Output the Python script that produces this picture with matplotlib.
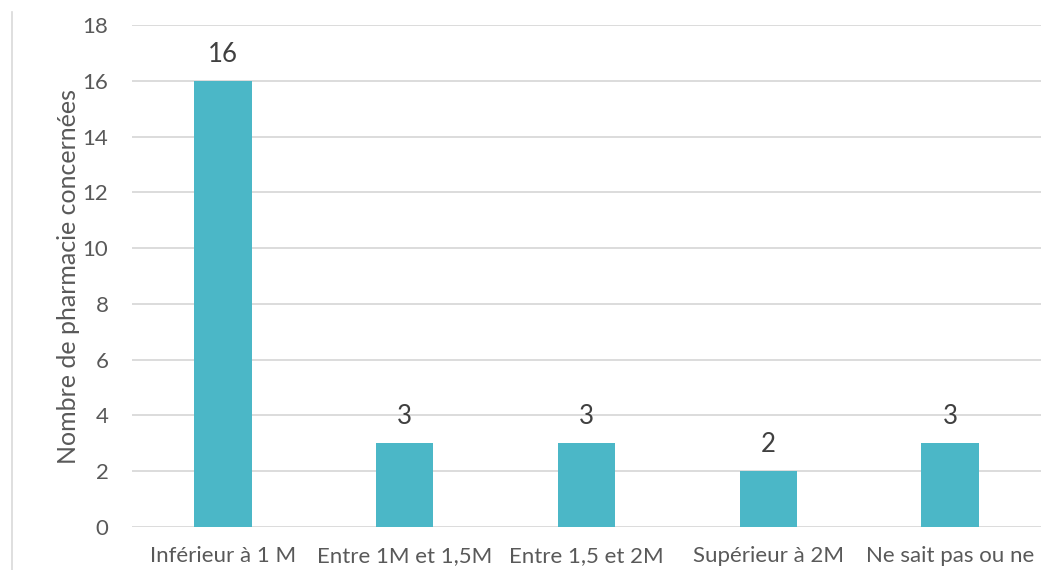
import matplotlib.pyplot as plt

categories = ['Inférieur à 1 M', 'Entre 1M et 1,5M', 'Entre 1,5 et 2M', 'Supérieur à 2M', 'Ne sait pas ou ne']
values = [16, 3, 3, 2, 3]
yticks = [0, 2, 4, 6, 8, 10, 12, 14, 16, 18]

plt.rcParams['font.family'] = ['Lato', 'DejaVu Sans']
grey = '#595959'

fig = plt.figure(figsize=(10.62, 5.7), dpi=100)
ax = fig.add_axes([132 / 1062, 1 - 527 / 570, 909 / 1062, 502 / 570])

x = range(len(categories))
bars = ax.bar(x, values, width=0.315, color='#4BB7C7', zorder=3)
for b, v in zip(bars, values):
    ax.text(b.get_x() + b.get_width() / 2, v + 0.5, str(v), ha='center', va='bottom',
            fontsize=18.5, color='#404040')

ax.set_xlim(-0.5, len(categories) - 0.5)
ax.set_ylim(0, 18)
ax.set_yticks(yticks)
ax.set_xticks(list(x))
ax.set_xticklabels(categories)
ax.tick_params(axis='y', length=0, labelsize=16, labelcolor=grey, pad=17)
ax.tick_params(axis='x', length=0, labelsize=16, labelcolor=grey, pad=14)
ax.yaxis.grid(True, color='#D9D9D9', linewidth=1.3, zorder=0)
for s in ax.spines.values():
    s.set_visible(False)
ax.set_ylabel('Nombre de pharmacie concernées', fontsize=18, color=grey, labelpad=2)

# thin border line on the left
fig.add_artist(plt.Line2D([12 / 1062, 12 / 1062], [0, 1 - 12 / 570], color='#D9D9D9', linewidth=1.2))

fig.savefig('out.png', dpi=100)
